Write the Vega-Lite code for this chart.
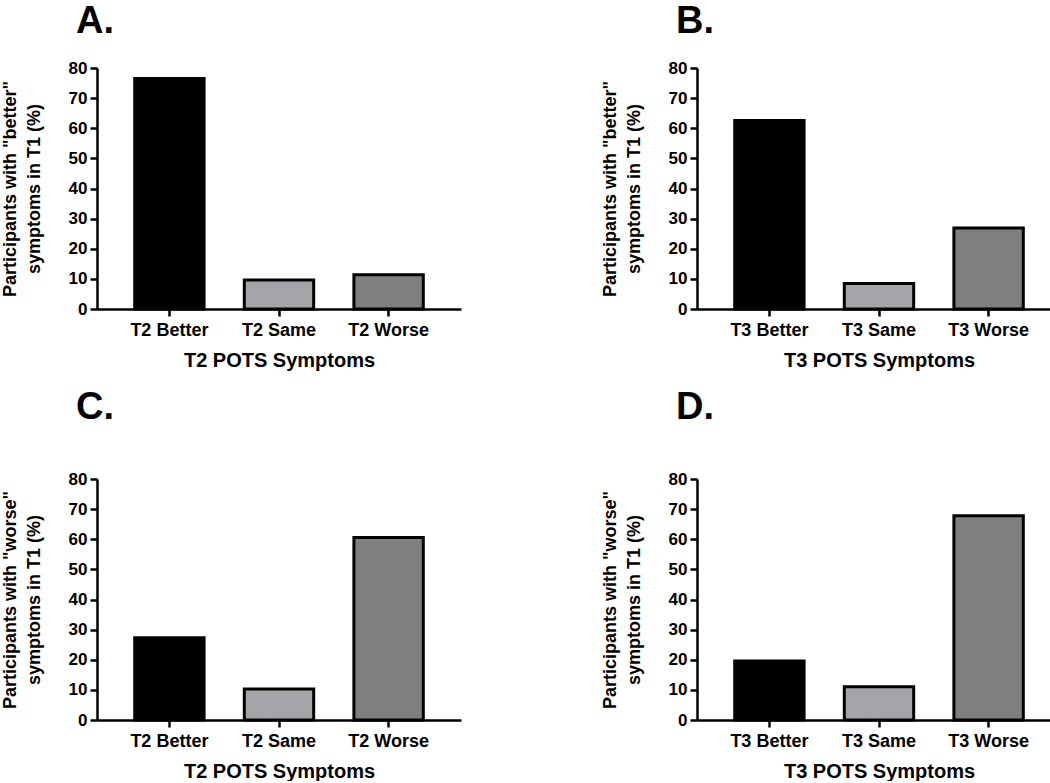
{
  "$schema": "https://vega.github.io/schema/vega-lite/v6.json",
  "padding": {"left": 1, "top": 3, "right": 0, "bottom": 0},
  "background": "white",
  "config": {
    "font": "Liberation Sans",
    "view": {"stroke": null},
    "axis": {
      "grid": false,
      "domainColor": "#000000",
      "domainWidth": 2.5,
      "tickColor": "#000000",
      "tickWidth": 2.5,
      "tickSize": 7,
      "labelColor": "#000000",
      "labelFontWeight": "bold",
      "titleColor": "#000000",
      "titleFontWeight": "bold"
    },
    "axisX": {"labelAngle": 0, "labelFontSize": 18, "labelPadding": 5, "titleFontSize": 20, "titlePadding": 11},
    "axisY": {"labelFontSize": 17, "labelPadding": 3, "titleFontSize": 18, "titleLineHeight": 24, "titlePadding": 25},
    "title": {"fontSize": 38, "fontWeight": "bold", "color": "#000000", "anchor": "start", "frame": "group"}
  },
  "datasets": {
    "a": [
      {"category": "T2 Better", "response": "Better", "percent": 76.5},
      {"category": "T2 Same", "response": "Same", "percent": 9.6},
      {"category": "T2 Worse", "response": "Worse", "percent": 11.4}
    ],
    "b": [
      {"category": "T3 Better", "response": "Better", "percent": 62.6},
      {"category": "T3 Same", "response": "Same", "percent": 8.5},
      {"category": "T3 Worse", "response": "Worse", "percent": 26.9}
    ],
    "c": [
      {"category": "T2 Better", "response": "Better", "percent": 27.3},
      {"category": "T2 Same", "response": "Same", "percent": 10.3},
      {"category": "T2 Worse", "response": "Worse", "percent": 60.6}
    ],
    "d": [
      {"category": "T3 Better", "response": "Better", "percent": 19.6},
      {"category": "T3 Same", "response": "Same", "percent": 11.0},
      {"category": "T3 Worse", "response": "Worse", "percent": 67.8}
    ]
  },
  "columns": 2,
  "spacing": {"row": 19, "column": 140},
  "concat": [
    {
      "title": {"text": "A.", "dx": -21, "offset": 18},
      "width": 364,
      "height": 241,
      "data": {"name": "a"},
      "mark": {"type": "bar", "stroke": "#000000", "strokeWidth": 3},
      "encoding": {
        "x": {"field": "category", "type": "nominal", "sort": null, "title": "T2 POTS Symptoms",
              "scale": {"paddingInner": 0.367, "paddingOuter": 0.344}},
        "y": {"field": "percent", "type": "quantitative", "scale": {"domain": [0, 80], "nice": false},
              "axis": {"values": [0, 10, 20, 30, 40, 50, 60, 70, 80], "title": ["Participants with \"better\"", "symptoms in T1 (%)"]}},
        "color": {"field": "response", "type": "nominal", "legend": null,
                  "scale": {"domain": ["Better", "Same", "Worse"], "range": ["#000000", "#a4a4a9", "#7f7f7f"]}}
      }
    },
    {
      "title": {"text": "B.", "dx": -21, "offset": 18},
      "width": 364,
      "height": 241,
      "data": {"name": "b"},
      "mark": {"type": "bar", "stroke": "#000000", "strokeWidth": 3},
      "encoding": {
        "x": {"field": "category", "type": "nominal", "sort": null, "title": "T3 POTS Symptoms",
              "scale": {"paddingInner": 0.367, "paddingOuter": 0.344}},
        "y": {"field": "percent", "type": "quantitative", "scale": {"domain": [0, 80], "nice": false},
              "axis": {"values": [0, 10, 20, 30, 40, 50, 60, 70, 80], "title": ["Participants with \"better\"", "symptoms in T1 (%)"]}},
        "color": {"field": "response", "type": "nominal", "legend": null,
                  "scale": {"domain": ["Better", "Same", "Worse"], "range": ["#000000", "#a4a4a9", "#7f7f7f"]}}
      }
    },
    {
      "title": {"text": "C.", "dx": -21, "offset": 43},
      "width": 364,
      "height": 241,
      "data": {"name": "c"},
      "mark": {"type": "bar", "stroke": "#000000", "strokeWidth": 3},
      "encoding": {
        "x": {"field": "category", "type": "nominal", "sort": null, "title": "T2 POTS Symptoms",
              "scale": {"paddingInner": 0.367, "paddingOuter": 0.344}},
        "y": {"field": "percent", "type": "quantitative", "scale": {"domain": [0, 80], "nice": false},
              "axis": {"values": [0, 10, 20, 30, 40, 50, 60, 70, 80], "title": ["Participants with \"worse\"", "symptoms in T1 (%)"]}},
        "color": {"field": "response", "type": "nominal", "legend": null,
                  "scale": {"domain": ["Better", "Same", "Worse"], "range": ["#000000", "#a4a4a9", "#7f7f7f"]}}
      }
    },
    {
      "title": {"text": "D.", "dx": -21, "offset": 43},
      "width": 364,
      "height": 241,
      "data": {"name": "d"},
      "mark": {"type": "bar", "stroke": "#000000", "strokeWidth": 3},
      "encoding": {
        "x": {"field": "category", "type": "nominal", "sort": null, "title": "T3 POTS Symptoms",
              "scale": {"paddingInner": 0.367, "paddingOuter": 0.344}},
        "y": {"field": "percent", "type": "quantitative", "scale": {"domain": [0, 80], "nice": false},
              "axis": {"values": [0, 10, 20, 30, 40, 50, 60, 70, 80], "title": ["Participants with  \"worse\"", "symptoms in T1 (%)"]}},
        "color": {"field": "response", "type": "nominal", "legend": null,
                  "scale": {"domain": ["Better", "Same", "Worse"], "range": ["#000000", "#a4a4a9", "#7f7f7f"]}}
      }
    }
  ]
}
